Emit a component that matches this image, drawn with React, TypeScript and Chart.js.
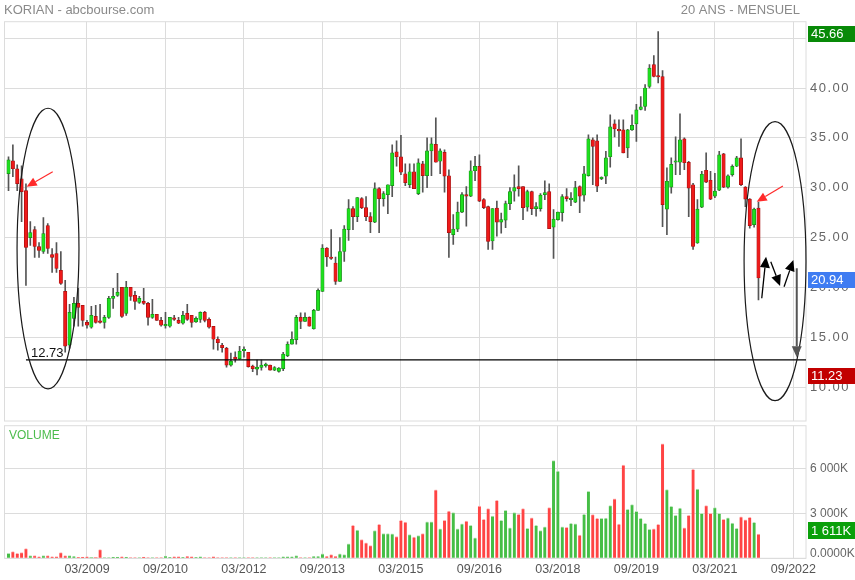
import React, { useEffect, useRef } from "react";
import { Chart, registerables } from "chart.js";

Chart.register(...registerables);

// ---------- data (monthly candles, first candle = 09/2007) ----------
const opens = [
  31.4, 32.7, 31.9, 30.9, 29.7, 25.0, 25.8, 24.1, 23.6, 26.2,
  23.3, 23.4, 21.7, 19.6, 14.2, 16.9, 18.4, 18.2, 16.5, 16.0,
  17.1, 16.6, 16.5, 17.0, 18.9, 19.2, 20.0, 17.4, 20.0, 19.2,
  18.5, 18.6, 18.4, 17.0, 17.3, 16.7, 16.15, 16.1, 16.85, 16.7,
  16.4, 17.4, 17.2, 16.55, 16.8, 17.5, 16.8, 16.1, 14.8, 14.2,
  13.9, 12.2, 13.0, 12.85, 13.65, 13.5, 12.1, 11.8, 11.97, 12.15,
  12.2, 11.7, 11.57, 11.85, 13.15, 14.3, 14.75, 17.0, 16.6, 17.0,
  15.85, 17.7, 19.6, 23.95, 23.05, 22.45, 20.6, 23.6, 25.8, 27.9,
  27.1, 28.9, 28.0, 27.1, 26.55, 29.9, 28.9, 29.3, 30.2, 33.6,
  33.1, 31.4, 30.3, 31.6, 29.4, 32.4, 31.2, 33.7, 34.35, 32.65,
  33.55, 31.2, 25.3, 25.85, 27.55, 29.3, 29.15, 31.7, 32.15, 28.8,
  28.1, 24.65, 27.95, 26.55, 26.75, 28.4, 29.65, 30.1, 30.1, 28.05,
  29.6, 27.9, 27.9, 29.3, 29.6, 26.05, 26.8, 27.5, 29.1, 28.8,
  28.55, 30.1, 29.25, 31.2, 34.8, 34.7, 30.9, 31.15, 33.1, 36.4,
  35.8, 35.8, 34.0, 35.8, 36.4, 37.85, 38.15, 40.15, 42.35, 41.15,
  41.15, 27.85, 30.05, 32.55, 32.55, 34.9, 32.55, 30.3, 24.45, 28.05,
  31.75, 30.75, 29.15, 29.75, 33.4, 30.05, 31.3, 32.15, 33.0, 30.05,
  28.85, 26.3, 27.95,
];
const highs = [
  33.1, 34.3, 32.3, 32.2, 30.4, 26.6, 26.1, 24.5, 27.0, 26.4,
  23.9, 24.5, 23.6, 20.7, 18.3, 19.0, 19.9, 18.2, 16.7, 18.1,
  18.2, 18.3, 17.2, 19.1, 19.9, 21.4, 20.0, 20.6, 20.0, 19.6,
  19.1, 19.9, 18.5, 18.8, 17.3, 17.0, 17.5, 17.0, 17.2, 17.0,
  17.6, 18.3, 17.2, 17.05, 17.55, 17.6, 16.95, 16.1, 15.05, 14.4,
  14.0, 13.4, 13.55, 14.1, 14.05, 13.5, 12.2, 12.7, 12.7, 12.4,
  12.2, 12.05, 11.97, 13.5, 14.55, 15.55, 17.2, 17.45, 17.45, 17.05,
  17.8, 19.85, 24.3, 24.0, 25.8, 23.05, 25.0, 26.2, 28.8, 28.1,
  29.0, 29.0, 29.1, 27.5, 30.5, 30.0, 29.6, 30.3, 34.3, 34.7,
  35.25, 32.4, 32.4, 32.4, 32.9, 32.65, 35.0, 35.0, 37.0, 33.9,
  33.8, 31.8, 27.3, 28.55, 29.5, 30.1, 32.7, 33.15, 33.3, 28.9,
  28.15, 27.9, 28.65, 27.45, 28.65, 30.0, 31.3, 32.2, 30.1, 29.75,
  29.65, 28.5, 29.4, 30.7, 30.4, 27.8, 27.55, 29.3, 29.9, 29.5,
  30.65, 30.2, 32.15, 35.3, 35.0, 35.3, 31.1, 33.65, 37.3, 36.8,
  36.8, 36.8, 35.85, 37.3, 38.35, 39.15, 40.35, 42.35, 43.25, 45.66,
  41.75, 32.0, 33.0, 35.1, 37.4, 35.0, 32.65, 30.45, 28.8, 31.65,
  33.5, 31.65, 31.45, 33.65, 33.45, 31.3, 32.3, 33.15, 34.9, 30.1,
  28.9, 27.95, 28.55,
];
const lows = [
  29.7, 31.1, 29.7, 26.6, 20.2, 24.2, 23.0, 23.0, 23.4, 23.4,
  21.5, 21.5, 20.3, 13.5, 13.9, 16.1, 16.1, 16.1, 15.9, 15.9,
  16.4, 16.4, 15.9, 16.9, 17.9, 19.1, 17.0, 17.2, 18.7, 17.8,
  18.4, 18.3, 16.2, 16.9, 16.7, 16.1, 15.9, 16.0, 16.7, 16.35,
  16.3, 16.7, 16.0, 16.5, 16.5, 16.55, 15.9, 13.8, 13.7, 13.5,
  12.0, 12.1, 12.5, 12.8, 13.0, 12.0, 11.55, 11.23, 11.7, 12.0,
  11.7, 11.65, 11.5, 11.65, 13.05, 14.3, 14.3, 15.85, 16.6, 16.1,
  15.8, 17.7, 19.6, 22.1, 22.8, 20.3, 20.6, 22.6, 24.7, 25.8,
  26.6, 27.9, 26.7, 25.5, 26.5, 25.5, 28.15, 27.4, 29.1, 32.15,
  31.3, 30.2, 30.0, 29.9, 29.3, 29.55, 30.0, 31.2, 32.55, 31.4,
  29.55, 23.0, 24.3, 25.6, 27.5, 26.15, 29.1, 30.7, 28.6, 27.9,
  23.8, 23.8, 25.15, 25.45, 26.0, 27.8, 28.65, 29.15, 26.8, 27.65,
  27.3, 27.15, 27.65, 28.8, 25.9, 22.9, 26.75, 26.65, 28.65, 28.2,
  28.5, 27.5, 28.65, 31.15, 30.3, 29.6, 30.8, 30.4, 32.05, 35.1,
  34.15, 33.5, 33.0, 35.75, 34.65, 37.8, 37.75, 40.0, 41.1, 40.5,
  26.1, 25.3, 29.45, 31.3, 31.3, 31.8, 27.1, 23.8, 24.4, 28.0,
  30.5, 28.8, 29.0, 29.7, 30.0, 29.95, 31.15, 32.1, 30.2, 28.1,
  25.95, 26.05, 18.75,
];
const closes = [
  32.8, 31.9, 30.4, 29.6, 24.0, 25.5, 24.1, 23.7, 25.4, 23.9,
  23.0, 21.9, 20.4, 14.1, 17.5, 18.4, 18.0, 16.7, 16.2, 17.2,
  16.5, 16.5, 17.0, 18.9, 19.1, 19.5, 17.1, 20.0, 19.1, 18.6,
  18.9, 18.4, 17.0, 17.3, 16.7, 16.2, 16.2, 17.0, 16.8, 16.4,
  17.2, 16.8, 16.5, 16.9, 17.5, 16.7, 16.0, 14.8, 14.45, 13.95,
  12.2, 12.6, 12.8, 13.6, 13.7, 12.05, 11.85, 12.0, 12.2, 12.2,
  11.7, 11.97, 11.9, 13.3, 14.3, 14.8, 17.0, 16.6, 17.0, 16.1,
  17.7, 19.7, 23.95, 23.05, 22.9, 20.6, 23.6, 25.85, 27.9, 27.1,
  29.0, 28.0, 27.1, 26.6, 29.9, 28.9, 29.4, 30.3, 33.5, 33.1,
  31.55, 30.5, 31.6, 29.9, 32.5, 31.2, 33.7, 34.4, 32.55, 33.7,
  31.15, 25.5, 25.85, 27.55, 29.3, 29.15, 31.7, 32.15, 28.65, 28.0,
  24.6, 27.9, 26.55, 26.8, 28.4, 29.6, 30.0, 29.9, 28.0, 29.6,
  27.9, 28.1, 29.25, 29.5, 25.9, 26.85, 27.55, 29.1, 28.9, 28.95,
  30.0, 29.15, 31.4, 34.9, 34.15, 30.15, 31.05, 33.0, 36.1, 35.9,
  35.7, 33.5, 35.8, 36.25, 37.8, 38.1, 40.0, 42.0, 41.15, 41.1,
  28.3, 30.65, 32.35, 32.6, 34.8, 32.5, 29.95, 24.1, 27.85, 31.35,
  30.55, 28.85, 29.65, 33.3, 30.05, 31.2, 32.15, 33.0, 30.3, 28.85,
  26.2, 27.85, 20.94,
];
// volumes in thousands of shares
const volumes = [
  333, 444, 333, 377, 644, 178, 178, 111, 178, 178,
  111, 111, 377, 178, 178, 133, 67, 89, 111, 22,
  22, 577, 44, 44, 89, 89, 111, 89, 44, 44,
  44, 89, 44, 44, 44, 44, 155, 67, 111, 111,
  67, 133, 111, 67, 111, 44, 44, 111, 44, 44,
  44, 44, 44, 44, 44, 44, 44, 44, 44, 44,
  44, 44, 44, 111, 111, 111, 178, 44, 44, 44,
  134, 134, 291, 134, 246, 134, 291, 246, 963, 2194,
  1881, 1254, 1030, 851, 1858, 2261, 1657, 1657, 1634, 1455,
  2530, 2418, 1590, 1411, 1523, 1657, 2440, 2440, 4568, 1970,
  2530, 3157, 3045, 1970, 2306, 2485, 2194, 1366, 3493, 2597,
  3314, 2821, 3873, 2530, 3202, 2037, 3045, 2933, 3314, 1993,
  2709, 2194, 1858, 2105, 3381, 6515, 5821, 2105, 2060, 2329,
  2306, 1545, 2933, 4478, 2911, 2664, 2664, 2687, 3515, 3963,
  2284, 6224, 3269, 3582, 3135, 2664, 2329, 1926, 1970, 2261,
  7635, 4590, 3470, 2866, 3358, 2037, 2866, 5933, 4612, 3000,
  3515, 3000, 3381, 3000, 2597, 2709, 2351, 1993, 2776, 2575,
  2732, 2396, 1611,
];

const xTickMonths = [18, 36, 54, 72, 90, 108, 126, 144, 162, 180];
const xTickLabels = ["03/2009", "09/2010", "03/2012", "09/2013", "03/2015", "09/2016", "03/2018", "09/2019", "03/2021", "09/2022"];
const priceTicks = [10, 15, 20, 25, 30, 35, 40, 45];
const volumeTicks = [0, 3000, 6000];
const volumeTickLabels = ["0.0000K", "3 000K", "6 000K"];

// annotations (in data coordinates: month index, price)
const supportLevel = 12.73;
const supportFromMonth = 4.0;
const ellipses = [
  { cx: 9.06, cy: 23.9, rx: 7.1, ry: 14.07 },
  { cx: 175.8, cy: 22.63, rx: 7.1, ry: 13.99 },
];
const redArrows = [
  { from: [10.14, 31.6], to: [4.17, 30.1] },
  { from: [177.6, 30.17], to: [171.6, 28.6] },
];
const blackArrows = [
  { from: [172.75, 18.91], to: [173.74, 23.08] },
  { from: [174.82, 22.58], to: [176.95, 20.14] },
  { from: [177.87, 20.07], to: [180.0, 22.75] },
  { from: [180.78, 21.92], to: [180.78, 12.99] },
];

// ---------- styles ----------
const FONT = '"Liberation Sans", Arial, sans-serif';
const GRID = "#dcdcdc";
const X_MIN = -0.92;
const X_MAX = 182.9;

const up = closes.map((c, i) => c >= opens[i]);

function drawArrow(ctx, x1, y1, x2, y2, color, width, headLen, headW) {
  const ang = Math.atan2(y2 - y1, x2 - x1);
  const bx = x2 - headLen * Math.cos(ang);
  const by = y2 - headLen * Math.sin(ang);
  ctx.strokeStyle = color;
  ctx.lineWidth = width;
  ctx.beginPath();
  ctx.moveTo(x1, y1);
  ctx.lineTo(bx, by);
  ctx.stroke();
  ctx.fillStyle = color;
  ctx.beginPath();
  ctx.moveTo(x2, y2);
  ctx.lineTo(bx + (headW / 2) * Math.sin(ang), by - (headW / 2) * Math.cos(ang));
  ctx.lineTo(bx - (headW / 2) * Math.sin(ang), by + (headW / 2) * Math.cos(ang));
  ctx.closePath();
  ctx.fill();
}

function drawBox(ctx, yCenter, text, bg) {
  ctx.fillStyle = bg;
  ctx.fillRect(808, Math.round(yCenter - 8), 47, 16);
  ctx.fillStyle = "#ffffff";
  ctx.font = `13px ${FONT}`;
  ctx.textAlign = "left";
  ctx.textBaseline = "middle";
  ctx.fillText(text, 811, yCenter + 0.5);
}

function fmtK(v) {
  const th = Math.floor(v / 1000);
  const rest = String(Math.round(v % 1000)).padStart(3, "0");
  return th > 0 ? `${th} ${rest}K` : `${rest}K`;
}

const pricePlugin = {
  id: "priceDecor",
  beforeDraw(chart) {
    chart.ctx.letterSpacing = "1.5px";
  },
  beforeDatasetsDraw(chart) {
    const { ctx, chartArea: a } = chart;
    ctx.save();
    ctx.strokeStyle = GRID;
    ctx.lineWidth = 1;
    ctx.strokeRect(a.left, a.top, a.right - a.left, a.bottom - a.top);
    ctx.restore();
  },
  afterDraw(chart) {
    const { ctx, scales } = chart;
    const xs = scales.x;
    const ys = scales.y;
    ctx.save();
    ctx.letterSpacing = "0px";
    // titles
    ctx.font = `13px ${FONT}`;
    ctx.fillStyle = "#8a8a8a";
    ctx.textBaseline = "alphabetic";
    ctx.textAlign = "left";
    ctx.fillText("KORIAN - abcbourse.com", 4, 14);
    ctx.textAlign = "right";
    ctx.fillText("20 ANS - MENSUEL", 800, 14);

    // support line
    const ly = ys.getPixelForValue(supportLevel);
    ctx.strokeStyle = "#000";
    ctx.lineWidth = 1.3;
    ctx.beginPath();
    ctx.moveTo(xs.getPixelForValue(supportFromMonth), ly);
    ctx.lineTo(chart.chartArea.right, ly);
    ctx.stroke();
    ctx.fillStyle = "#111";
    ctx.font = `13px ${FONT}`;
    ctx.textAlign = "left";
    ctx.fillText(supportLevel.toFixed(2), 31, ly - 2.5);

    // ellipses
    ctx.strokeStyle = "#1a1a1a";
    ctx.lineWidth = 1.2;
    for (const e of ellipses) {
      const cx = xs.getPixelForValue(e.cx);
      const cy = ys.getPixelForValue(e.cy);
      const rx = Math.abs(xs.getPixelForValue(e.cx + e.rx) - cx);
      const ry = Math.abs(ys.getPixelForValue(e.cy + e.ry) - cy);
      ctx.beginPath();
      ctx.ellipse(cx, cy, rx, ry, 0, 0, Math.PI * 2);
      ctx.stroke();
    }
    // arrows
    for (const ar of redArrows) {
      drawArrow(ctx, xs.getPixelForValue(ar.from[0]), ys.getPixelForValue(ar.from[1]),
        xs.getPixelForValue(ar.to[0]), ys.getPixelForValue(ar.to[1]), "#ff2a2a", 1.2, 10, 9);
    }
    blackArrows.forEach((ar, k) => {
      const vertical = k === blackArrows.length - 1;
      drawArrow(ctx, xs.getPixelForValue(ar.from[0]), ys.getPixelForValue(ar.from[1]),
        xs.getPixelForValue(ar.to[0]), ys.getPixelForValue(ar.to[1]),
        vertical ? "#555" : "#000", vertical ? 2 : 1.3, 11, 10);
    });

    // price boxes
    const maxHigh = Math.max(...highs);
    const minLow = Math.min(...lows);
    const last = closes[closes.length - 1];
    drawBox(ctx, ys.getPixelForValue(maxHigh) + 2, maxHigh.toFixed(2), "#088a08");
    drawBox(ctx, ys.getPixelForValue(last) + 1.5, last.toFixed(2), "#3f7cf2");
    drawBox(ctx, ys.getPixelForValue(minLow) + 1.5, minLow.toFixed(2), "#c20000");
    ctx.restore();
  },
};

const volumePlugin = {
  id: "volDecor",
  beforeDatasetsDraw(chart) {
    const { ctx, chartArea: a } = chart;
    ctx.save();
    ctx.strokeStyle = GRID;
    ctx.lineWidth = 1;
    ctx.strokeRect(a.left, a.top, a.right - a.left, a.bottom - a.top);
    ctx.restore();
  },
  afterDraw(chart) {
    const { ctx, scales, chartArea: a } = chart;
    ctx.save();
    ctx.font = `12px ${FONT}`;
    ctx.fillStyle = "#4cbc4c";
    ctx.textAlign = "left";
    ctx.textBaseline = "alphabetic";
    ctx.fillText("VOLUME", 9, a.top + 13);
    // zero label sits above the baseline
    ctx.fillStyle = "#666";
    ctx.font = `12px ${FONT}`;
    ctx.fillText(volumeTickLabels[0], 810, scales.y.getPixelForValue(0) - 1);
    const lastVol = volumes[volumes.length - 1];
    ctx.fillStyle = "#0aa00a";
    const yc = scales.y.getPixelForValue(lastVol) - 4;
    ctx.fillRect(808, Math.round(yc - 8), 47, 17);
    ctx.fillStyle = "#fff";
    ctx.font = `13px ${FONT}`;
    ctx.textBaseline = "middle";
    ctx.fillText(fmtK(lastVol), 811, yc + 1);
    ctx.restore();
  },
};

function priceConfig() {
  return {
    type: "bar",
    data: {
      datasets: [
        {
          label: "body",
          data: opens.map((o, i) => ({ x: i, y: [o, closes[i]] })),
          backgroundColor: up.map((u) => (u ? "#1ee01e" : "#ee1a1a")),
          borderColor: up.map((u) => (u ? "#168a16" : "#a41010")),
          borderWidth: 0.7,
          borderSkipped: false,
          barThickness: 3.4,
          minBarLength: 1.5,
          grouped: false,
          order: 1,
        },
        {
          label: "wick",
          data: lows.map((l, i) => ({ x: i, y: [l, highs[i]] })),
          backgroundColor: "#555555",
          borderWidth: 0,
          barThickness: 1,
          grouped: false,
          order: 2,
        },
      ],
    },
    options: {
      responsive: false,
      animation: false,
      devicePixelRatio: 1,
      events: [],
      layout: { padding: { left: 4.5, top: 21.7, right: 0, bottom: 159 } },
      plugins: { legend: { display: false }, tooltip: { enabled: false } },
      scales: {
        x: {
          type: "linear",
          min: X_MIN,
          max: X_MAX,
          offset: false,
          grid: { color: GRID, lineWidth: 1, drawTicks: false, offset: false },
          border: { display: false },
          ticks: { display: false },
          afterBuildTicks: (s) => { s.ticks = xTickMonths.map((v) => ({ value: v })); },
          afterFit: (s) => { s.height = 0; },
        },
        y: {
          position: "right",
          min: 6.6,
          max: 46.65,
          grid: { color: GRID, lineWidth: 1, drawTicks: false },
          border: { display: false },
          ticks: {
            color: "#666",
            font: { size: 13, family: FONT },
            padding: 4,
            callback: (v) => Number(v).toFixed(2),
          },
          afterBuildTicks: (s) => { s.ticks = priceTicks.map((v) => ({ value: v })); },
          afterFit: (s) => { s.width = 49; },
        },
      },
    },
    plugins: [pricePlugin],
  };
}

function volumeConfig() {
  return {
    type: "bar",
    data: {
      datasets: [
        {
          label: "volume",
          data: volumes.map((v, i) => ({ x: i, y: v })),
          backgroundColor: up.map((u) => (u ? "#46be46" : "#ff4444")),
          borderColor: up.map((u) => (u ? "#b8e4b8" : "#ffb4b4")),
          borderWidth: { top: 1, left: 0, right: 0, bottom: 0 },
          barThickness: 3,
          grouped: false,
        },
      ],
    },
    options: {
      responsive: false,
      animation: false,
      devicePixelRatio: 1,
      events: [],
      layout: { padding: { left: 4.5, top: 425.7, right: 0, bottom: 0 } },
      plugins: { legend: { display: false }, tooltip: { enabled: false } },
      scales: {
        x: {
          type: "linear",
          min: X_MIN,
          max: X_MAX,
          offset: false,
          grid: { color: GRID, lineWidth: 1, drawTicks: false, offset: false },
          border: { display: false },
          ticks: {
            color: "#555",
            font: { size: 12.5, family: FONT },
            padding: 4,
            maxRotation: 0,
            autoSkip: false,
            callback: (v) => {
              const k = xTickMonths.indexOf(Number(v));
              return k >= 0 ? xTickLabels[k] : "";
            },
          },
          afterBuildTicks: (s) => { s.ticks = xTickMonths.map((v) => ({ value: v })); },
          afterFit: (s) => { s.height = 21.7; },
        },
        y: {
          position: "right",
          min: 0,
          max: 8850,
          grid: { color: GRID, lineWidth: 1, drawTicks: false },
          border: { display: false },
          ticks: {
            color: "#666",
            font: { size: 12, family: FONT },
            padding: 4,
            callback: (v) => {
              const k = volumeTicks.indexOf(Number(v));
              return k > 0 ? volumeTickLabels[k] : "";
            },
          },
          afterBuildTicks: (s) => { s.ticks = volumeTicks.map((v) => ({ value: v })); },
          afterFit: (s) => { s.width = 49; },
        },
      },
    },
    plugins: [volumePlugin],
  };
}

export default function App() {
  const priceRef = useRef(null);
  const volRef = useRef(null);
  useEffect(() => {
    const pc = new Chart(priceRef.current, priceConfig() as any);
    const vc = new Chart(volRef.current, volumeConfig() as any);
    return () => {
      pc.destroy();
      vc.destroy();
    };
  }, []);
  const cs = { position: "absolute" as const, left: 0, top: 0, width: 855, height: 580 };
  return (
    <div style={{ position: "absolute", left: 0, top: 0, width: 855, height: 580, background: "#fff" }}>
      <canvas ref={priceRef} width={855} height={580} style={cs} />
      <canvas ref={volRef} width={855} height={580} style={cs} />
    </div>
  );
}
